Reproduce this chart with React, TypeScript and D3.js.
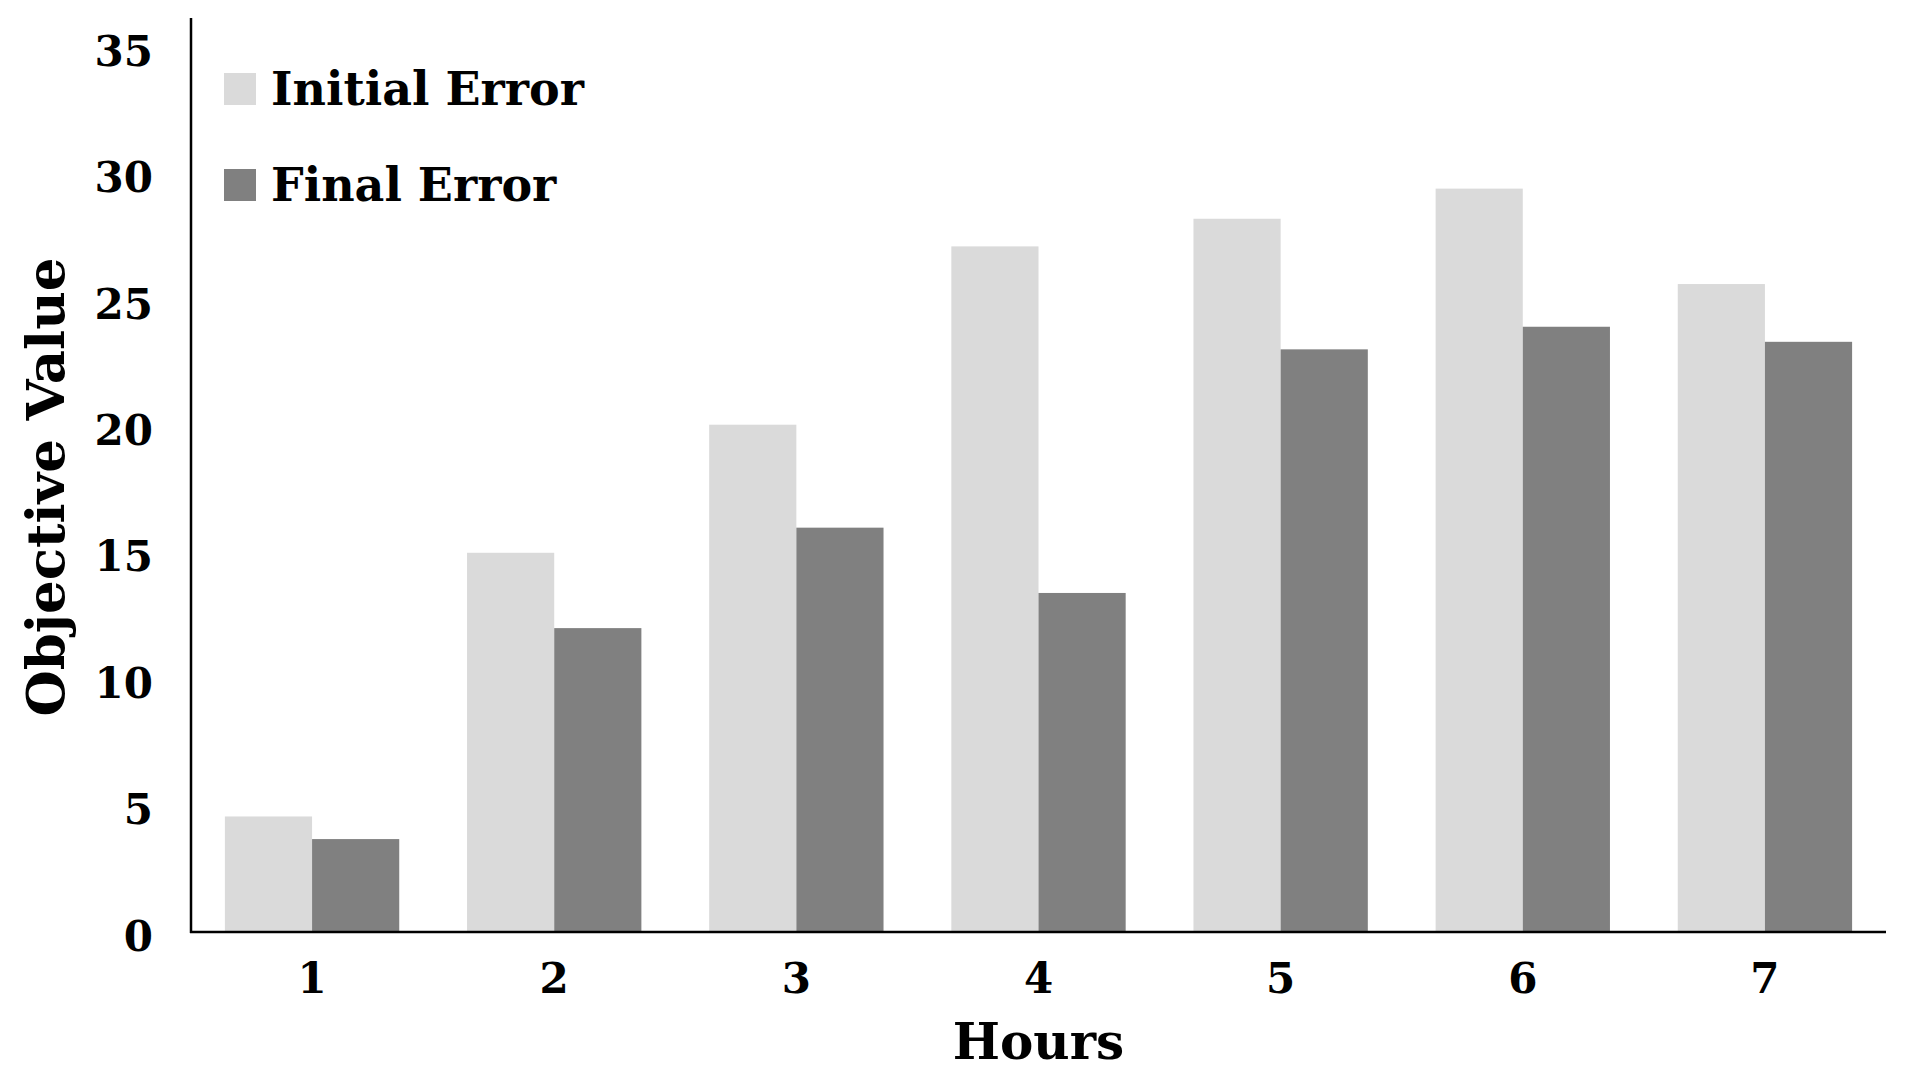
import React, { useEffect, useRef } from 'react';
import * as d3 from 'd3';

const hours = ['1', '2', '3', '4', '5', '6', '7'];
const initialError = [4.6, 15.1, 20.2, 27.3, 28.4, 29.6, 25.8];
const finalError = [3.7, 12.1, 16.1, 13.5, 23.2, 24.1, 23.5];
const seriesNames = ['Initial Error', 'Final Error'];
const seriesColors = ['#dadada', '#808080'];
const yTicks = [0, 5, 10, 15, 20, 25, 30, 35];

const FONT = '"DejaVu Serif", "Liberation Serif", serif';

const App = () => {
  const svgRef = useRef<SVGSVGElement>(null);

  useEffect(() => {
    const width = 1910;
    const height = 1080;
    const margin = { left: 191, right: 24, top: 18, bottom: 148 };

    const svg = d3.select(svgRef.current);
    svg.selectAll('*').remove();

    const x = d3.scaleBand()
      .domain(hours)
      .range([margin.left, width - margin.right])
      .paddingInner(0.28)
      .paddingOuter(0.14);

    const x1 = d3.scaleBand()
      .domain(seriesNames)
      .range([0, x.bandwidth()]);

    const y = d3.scaleLinear()
      .domain([0, 35])
      .range([height - margin.bottom, 53]);

    const rows = hours.map((h, i) => ({ h, vals: [initialError[i], finalError[i]] }));

    const groups = svg.append('g')
      .selectAll('g')
      .data(rows)
      .enter()
      .append('g')
      .attr('transform', (d) => `translate(${x(d.h)},0)`);

    groups.selectAll('rect')
      .data((d) => d.vals.map((v, j) => ({ v, name: seriesNames[j], color: seriesColors[j] })))
      .enter()
      .append('rect')
      .attr('x', (d) => x1(d.name)!)
      .attr('y', (d) => y(d.v))
      .attr('width', x1.bandwidth())
      .attr('height', (d) => y(0) - y(d.v))
      .attr('fill', (d) => d.color);

    // axes lines
    svg.append('line')
      .attr('x1', margin.left).attr('x2', margin.left)
      .attr('y1', margin.top).attr('y2', y(0) + 1)
      .attr('stroke', '#000').attr('stroke-width', 2.5);
    svg.append('line')
      .attr('x1', margin.left - 1).attr('x2', width - margin.right)
      .attr('y1', y(0)).attr('y2', y(0))
      .attr('stroke', '#000').attr('stroke-width', 2.5);

    // y tick labels (spaced a touch wider than the bars' scale, as in the original)
    const yLabel = d3.scaleLinear().domain([0, 35]).range([936, 51]);
    svg.append('g')
      .selectAll('text')
      .data(yTicks)
      .enter()
      .append('text')
      .attr('x', 153)
      .attr('y', (d) => yLabel(d))
      .attr('dy', '0.35em')
      .attr('text-anchor', 'end')
      .attr('font-family', FONT)
      .attr('font-weight', 'bold')
      .attr('font-size', 42)
      .text((d) => d);

    // x tick labels
    svg.append('g')
      .selectAll('text')
      .data(hours)
      .enter()
      .append('text')
      .attr('x', (d) => x(d)! + x.bandwidth() / 2)
      .attr('y', 978)
      .attr('dy', '0.35em')
      .attr('text-anchor', 'middle')
      .attr('font-family', FONT)
      .attr('font-weight', 'bold')
      .attr('font-size', 42)
      .text((d) => d);

    // axis titles
    svg.append('text')
      .attr('x', (margin.left + width - margin.right) / 2)
      .attr('y', 1041)
      .attr('dy', '0.35em')
      .attr('text-anchor', 'middle')
      .attr('font-family', FONT)
      .attr('font-weight', 'bold')
      .attr('font-size', 50)
      .text('Hours');

    svg.append('text')
      .attr('transform', `translate(45,487) rotate(-90)`)
      .attr('dy', '0.35em')
      .attr('text-anchor', 'middle')
      .attr('font-family', FONT)
      .attr('font-weight', 'bold')
      .attr('font-size', 53)
      .text('Objective Value');

    // legend
    const legend = svg.append('g')
      .selectAll('g')
      .data(seriesNames)
      .enter()
      .append('g')
      .attr('transform', (d, i) => `translate(224,${73 + i * 96})`);

    legend.append('rect')
      .attr('width', 32)
      .attr('height', 32)
      .attr('fill', (d, i) => seriesColors[i]);

    legend.append('text')
      .attr('x', 47)
      .attr('y', 32)
      .attr('font-family', FONT)
      .attr('font-weight', 'bold')
      .attr('font-size', 46)
      .text((d) => d);
  }, []);

  return (
    <svg
      ref={svgRef}
      width={1910}
      height={1080}
      style={{ position: 'absolute', left: 0, top: 0, background: '#fff' }}
    ></svg>
  );
};

export default App;
